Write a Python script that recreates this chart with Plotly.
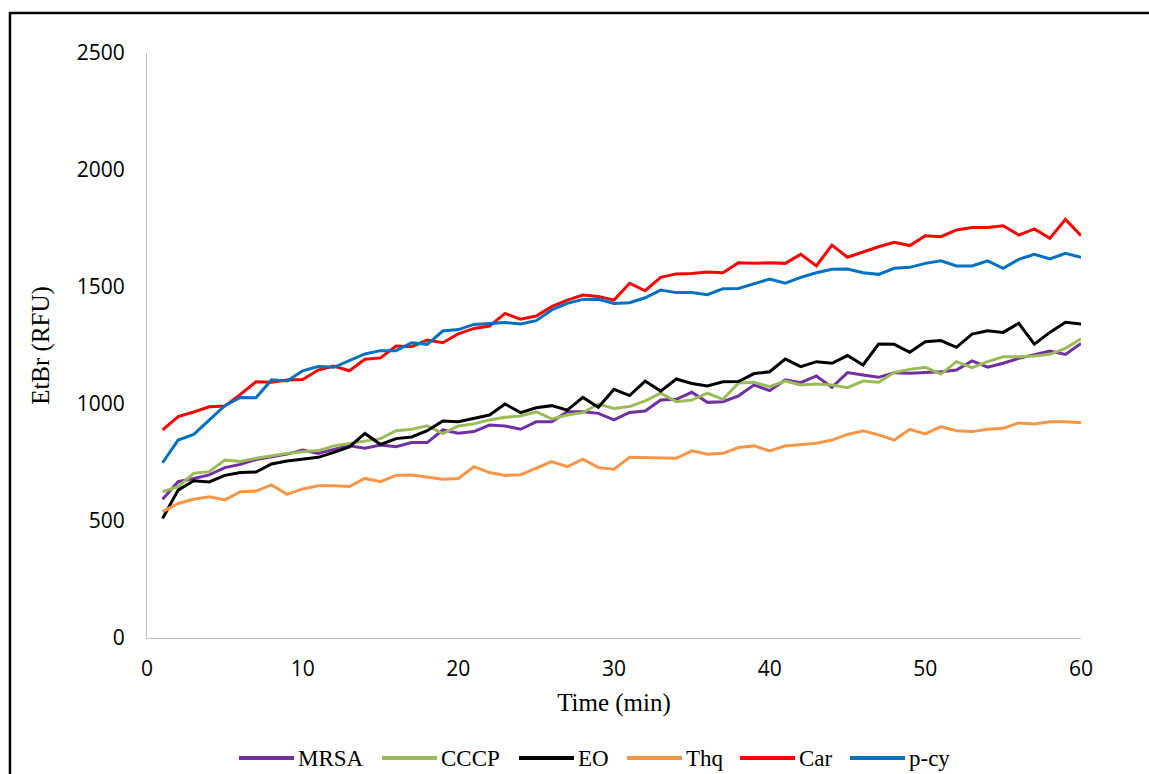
import plotly.graph_objects as go

minutes = list(range(1, 61))

mrsa = [593, 668, 682, 697, 728, 742, 763, 775, 786, 803, 789, 806, 821, 811, 825, 817, 835, 835, 889, 875,
        882, 910, 906, 892, 924, 924, 967, 967, 960, 932, 964, 970, 1017, 1020, 1050, 1007, 1010, 1035, 1082, 1057,
        1103, 1091, 1120, 1071, 1134, 1124, 1114, 1134, 1131, 1135, 1138, 1145, 1184, 1157, 1174, 1195, 1209, 1226, 1212, 1259]
cccp = [625, 647, 704, 711, 761, 754, 768, 779, 789, 796, 801, 821, 832, 843, 852, 886, 892, 907, 874, 906,
        915, 932, 943, 949, 967, 936, 953, 963, 1000, 981, 989, 1013, 1046, 1010, 1017, 1046, 1020, 1090, 1093, 1074,
        1098, 1081, 1085, 1081, 1070, 1098, 1093, 1135, 1148, 1157, 1128, 1181, 1155, 1181, 1202, 1202, 1205, 1212, 1238, 1279]
eo = [511, 632, 672, 667, 695, 707, 709, 744, 756, 763, 772, 793, 817, 874, 827, 852, 859, 886, 927, 924,
      939, 953, 1000, 963, 984, 993, 974, 1028, 986, 1063, 1036, 1098, 1055, 1107, 1088, 1077, 1095, 1096, 1130, 1138,
      1192, 1160, 1181, 1174, 1207, 1167, 1256, 1255, 1221, 1266, 1271, 1242, 1299, 1313, 1306, 1345, 1256, 1306, 1349, 1342]
thq = [540, 575, 593, 604, 590, 625, 628, 654, 614, 637, 651, 651, 647, 682, 668, 695, 697, 689, 678, 682,
       732, 707, 695, 698, 725, 754, 732, 764, 728, 721, 772, 771, 771, 768, 800, 785, 789, 814, 821, 799,
       821, 828, 832, 846, 870, 885, 868, 846, 892, 872, 903, 886, 882, 892, 896, 919, 915, 924, 924, 920]
car = [889, 946, 966, 988, 991, 1041, 1095, 1093, 1103, 1105, 1145, 1162, 1142, 1191, 1197, 1248, 1245, 1273, 1262, 1300,
       1323, 1333, 1387, 1362, 1376, 1416, 1444, 1466, 1459, 1444, 1516, 1484, 1541, 1556, 1558, 1564, 1561, 1604, 1601, 1604,
       1601, 1640, 1590, 1679, 1627, 1651, 1672, 1691, 1677, 1719, 1715, 1744, 1754, 1754, 1762, 1722, 1748, 1708, 1789, 1719]
pcy = [749, 846, 870, 932, 993, 1028, 1027, 1103, 1098, 1142, 1160, 1157, 1184, 1214, 1228, 1228, 1262, 1255, 1312, 1318,
       1340, 1345, 1348, 1342, 1356, 1402, 1430, 1447, 1447, 1430, 1433, 1454, 1487, 1476, 1476, 1467, 1493, 1494, 1515, 1534,
       1516, 1541, 1561, 1576, 1577, 1561, 1554, 1580, 1584, 1601, 1612, 1590, 1590, 1612, 1580, 1618, 1640, 1620, 1644, 1627]

series_names = ["MRSA", "CCCP", "EO", "Thq", "Car", "p-cy"]
series_values = [mrsa, cccp, eo, thq, car, pcy]
series_colors = ["#7030A0", "#9BBB59", "#000000", "#F79646", "#FF0000", "#0070C0"]

x_ticks = [0, 10, 20, 30, 40, 50, 60]
y_ticks = [0, 500, 1000, 1500, 2000, 2500]

# layout constants (pixels) for the custom legend below the chart
W, H = 1149, 774
ML, MR, MT, MB = 147, 68, 53, 136
PW, PH = W - ML - MR, H - MT - MB
legend_start_px = [239, 382, 519, 627, 740, 850]
legend_line_len = 55
legend_y_px = 758


def px_to_paper_x(px):
    return (px - ML) / PW


def px_to_paper_y(py):
    return (H - MB - py) / PH


fig = go.Figure()
for name, vals, col in zip(series_names, series_values, series_colors):
    fig.add_trace(go.Scatter(x=minutes, y=vals, name=name, mode="lines",
                             line=dict(color=col, width=3), showlegend=False))

tick_font = dict(family="Open Sans, Lato, sans-serif", size=21, color="#000000")
title_font = dict(family="Liberation Serif, Times New Roman, serif", size=25, color="#000000")
legend_font = dict(family="Liberation Serif, Times New Roman, serif", size=23, color="#000000")

shapes = [dict(type="rect", xref="paper", yref="paper",
               x0=-0.1467, x1=1.3, y0=-0.4, y1=1.0684,
               line=dict(color="#000000", width=2.5), fillcolor="rgba(0,0,0,0)", layer="below")]
annotations = []
ly = px_to_paper_y(legend_y_px)
for name, col, sx in zip(series_names, series_colors, legend_start_px):
    shapes.append(dict(type="line", xref="paper", yref="paper",
                       x0=px_to_paper_x(sx), x1=px_to_paper_x(sx + legend_line_len), y0=ly, y1=ly,
                       line=dict(color=col, width=4)))
    annotations.append(dict(xref="paper", yref="paper", x=px_to_paper_x(sx + legend_line_len + 2), y=ly,
                            text=name, showarrow=False, xanchor="left", yanchor="middle",
                            font=legend_font))

fig.update_layout(
    width=W, height=H,
    margin=dict(l=ML, r=MR, t=MT, b=MB),
    paper_bgcolor="white", plot_bgcolor="white",
    showlegend=False,
    xaxis=dict(range=[0, 60], tickvals=x_ticks, showgrid=False, zeroline=False,
               showline=True, linecolor="#BFBFBF", linewidth=1, ticks="",
               tickfont=tick_font, ticklabelstandoff=12, automargin=False,
               title=dict(text="Time (min)", font=title_font, standoff=12)),
    yaxis=dict(range=[0, 2500], tickvals=y_ticks, showgrid=False, zeroline=False,
               showline=True, linecolor="#BFBFBF", linewidth=1, ticks="",
               tickfont=tick_font, ticklabelstandoff=17, automargin=False,
               title=dict(text="EtBr (RFU)", font=title_font, standoff=20)),
    shapes=shapes,
    annotations=annotations,
)

fig.write_html("out.html")
